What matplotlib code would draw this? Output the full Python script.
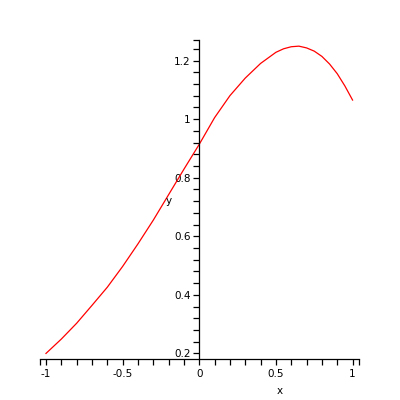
import matplotlib
matplotlib.use("Agg")
import matplotlib.pyplot as plt
import numpy as np

# curve values
x_vals = [-1.0, -0.9, -0.8, -0.7, -0.6, -0.5, -0.4, -0.3, -0.2, -0.1, 0.0,
          0.1, 0.2, 0.3, 0.4, 0.5, 0.55, 0.6, 0.65, 0.7, 0.75, 0.8, 0.85,
          0.9, 0.95, 1.0]
y_vals = [0.200, 0.249, 0.303, 0.364, 0.426, 0.497, 0.574, 0.655, 0.742, 0.829, 0.914,
          1.005, 1.080, 1.140, 1.190, 1.228, 1.240, 1.247, 1.249, 1.243, 1.232, 1.214, 1.188,
          1.155, 1.113, 1.065]

x_ticks = [-1, -0.5, 0, 0.5, 1]
x_tick_labels = ["-1", "-0.5", "0", "0.5", "1"]
y_ticks = [0.2, 0.4, 0.6, 0.8, 1.0, 1.2]
y_tick_labels = ["0.2", "0.4", "0.6", "0.8", "1", "1.2"]

xmin, xmax = -1.039, 1.042
ymin, ymax = 0.181, 1.27

fig = plt.figure(figsize=(4, 4), dpi=100)
ax = fig.add_axes([0.1, 0.1025, 0.7975, 0.7975])
ax.plot(x_vals, y_vals, color="red", linewidth=0.9)

ax.set_xlim(xmin, xmax)
ax.set_ylim(ymin, ymax)

ax.spines["top"].set_visible(False)
ax.spines["right"].set_visible(False)
ax.spines["left"].set_position(("data", 0))
ax.spines["bottom"].set_position(("data", ymin))
for s in ("left", "bottom"):
    ax.spines[s].set_linewidth(0.9)

ax.set_xticks(x_ticks)
ax.set_xticklabels(x_tick_labels)
ax.set_yticks(y_ticks)
ax.set_yticklabels(y_tick_labels)

xminor = [xmin] + [round(v, 2) for v in np.arange(-1.0, 1.001, 0.1)] + [xmax]
yminor = [round(v, 2) for v in np.arange(0.2, 1.241, 0.04)] + [ymax]
ax.set_xticks(xminor, minor=True)
ax.set_yticks(yminor, minor=True)

ax.tick_params(axis="both", which="both", direction="out", length=4, width=0.9,
               labelsize=7.5, colors="black")
ax.tick_params(axis="x", which="major", pad=3)
ax.tick_params(axis="y", which="major", pad=2)

fig.text(280 / 400, 1 - 390.5 / 400, "x", ha="center", va="center", fontsize=7.5)
fig.text(168.5 / 400, 1 - 201 / 400, "y", ha="center", va="center", fontsize=7.5)

fig.savefig("out.png", dpi=100)
